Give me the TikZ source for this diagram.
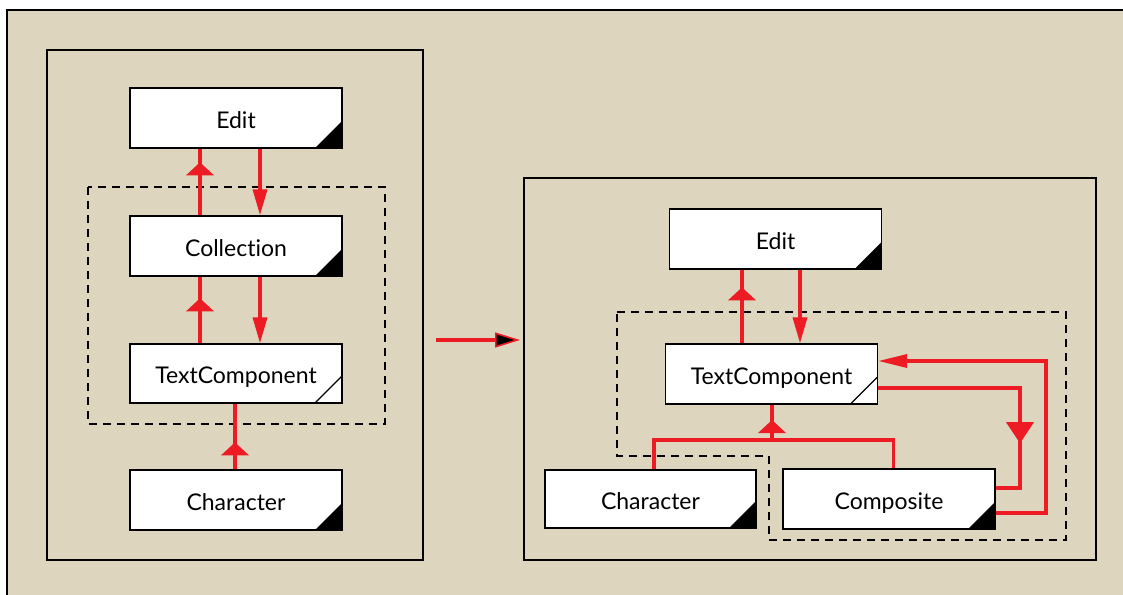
\documentclass[tikz,border=0pt]{standalone}
\usepackage{fontspec}
\setmainfont{Lato}[Ligatures={NoCommon,NoRare}]
\usetikzlibrary{arrows.meta,decorations.markings}
\definecolor{bg}{RGB}{221,213,190}
\definecolor{lred}{RGB}{237,28,36}
\tikzset{
  cls/.style={draw=black, fill=white, line width=1.3pt, minimum width=212pt, minimum height=60pt, inner sep=0pt, text height=20pt, text depth=0pt, font=\fontsize{23}{27}\selectfont},
  abscls/.style={cls, path picture={\draw[line width=1.3pt] ([xshift=-27pt]path picture bounding box.south east) -- ([yshift=27pt]path picture bounding box.south east);}},
  concls/.style={cls, path picture={\fill[black] ([xshift=-27pt]path picture bounding box.south east) -- (path picture bounding box.south east) -- ([yshift=27pt]path picture bounding box.south east) -- cycle;}},
  rl/.style={draw=lred, line width=3.5pt, line join=miter},
  genmark/.style={postaction={decorate, decoration={markings, mark=at position #1pt with {\fill[lred] (0,0) -- (-13pt,14pt) -- (-13pt,-14pt) -- cycle;}}}},
  bigmark/.style={postaction={decorate, decoration={markings, mark=at position #1pt with {\fill[lred] (0,0) -- (-21pt,14pt) -- (-21pt,-14pt) -- cycle;}}}},
  tip/.style={-{Triangle[length=26pt,width=14pt]}},
  panel/.style={draw=black, line width=1.8pt},
  dsh/.style={draw=black, line width=1.4pt, dash pattern=on 8pt off 6pt},
}
\begin{document}
\begin{tikzpicture}[x=1pt, y=-1pt]
\useasboundingbox (0,0) rectangle (1123,594);
\clip (0,0) rectangle (1123,594);
\fill[white] (0,0) rectangle (1123,594);
\fill[bg] (7,10) rectangle (1140,610);
\draw[line width=1.5pt] (7,610) -- (7,10) -- (1140,10);

% panels
\draw[panel] (47,50) rectangle (423,560);
\draw[panel] (524,178) rectangle (1096,560);

% dashed groups
\draw[dsh] (88,187) rectangle (385,424);
\draw[dsh] (617,312) -- (1066,312) -- (1066,540) -- (769,540) -- (769,456) -- (617,456) -- cycle;

% left classes
\node[concls] (ledit) at (236,118) {Edit};
\node[concls] (lcoll) at (236,246) {Collection};
\node[abscls, minimum height=59pt] (ltc) at (236,373.5) {TextComponent};
\node[concls] (lchar) at (236,500) {Character};

% right classes
\node[concls] (redit) at (775.5,239) {Edit};
\node[abscls] (rtc) at (771.5,374) {TextComponent};
\node[concls, minimum height=58pt, minimum width=211pt] (rchar) at (650.5,499) {Character};
\node[concls] (rcomp) at (889,499) {Composite};

% left connectors
\draw[rl, genmark=53] ([xshift=-36pt]lcoll.north) -- ([xshift=-36pt]lcoll.north |- ledit.south);
\draw[rl, tip] ([xshift=24pt]ledit.south) -- ([xshift=24pt]ledit.south |- lcoll.north);
\draw[rl, genmark=45] ([xshift=-36pt]ltc.north) -- ([xshift=-36pt]ltc.north |- lcoll.south);
\draw[rl, tip] ([xshift=24pt]lcoll.south) -- ([xshift=24pt]lcoll.south |- ltc.north);
\draw[rl, genmark=27] ([xshift=-1pt]lchar.north) -- ([xshift=-1pt]lchar.north |- ltc.south);

% transformation arrow
\coordinate (ma) at (436,340);
\coordinate (mb) at (520,340);
\draw[draw=lred, line width=3.8pt, -{Triangle[length=25pt,width=15pt,fill=black,line width=1.6pt]}] (ma) -- (mb);

% right connectors
\draw[rl, genmark=56] ([xshift=-29.5pt]rtc.north) -- ([xshift=-29.5pt]rtc.north |- redit.south);
\draw[rl, tip] ([xshift=24.5pt]redit.south) -- ([xshift=24.5pt]redit.south |- rtc.north);
\coordinate (j) at (772,440);
\draw[rl, genmark=20] (j) -- (j |- rtc.south);
\draw[rl] ([xshift=3.5pt]rchar.north) |- (j) -| ([xshift=4.5pt]rcomp.north);
\draw[rl, bigmark=197] ([yshift=-14pt]rtc.east) -- (1020,388) -- (1020,488) -- ([yshift=11pt]rcomp.east);
\draw[rl, -{Triangle[length=29pt,width=13pt]}] ([yshift=-14pt]rcomp.east) -- (1046,513) -- (1046,361) -- ([yshift=13pt]rtc.east);
\end{tikzpicture}
\end{document}
